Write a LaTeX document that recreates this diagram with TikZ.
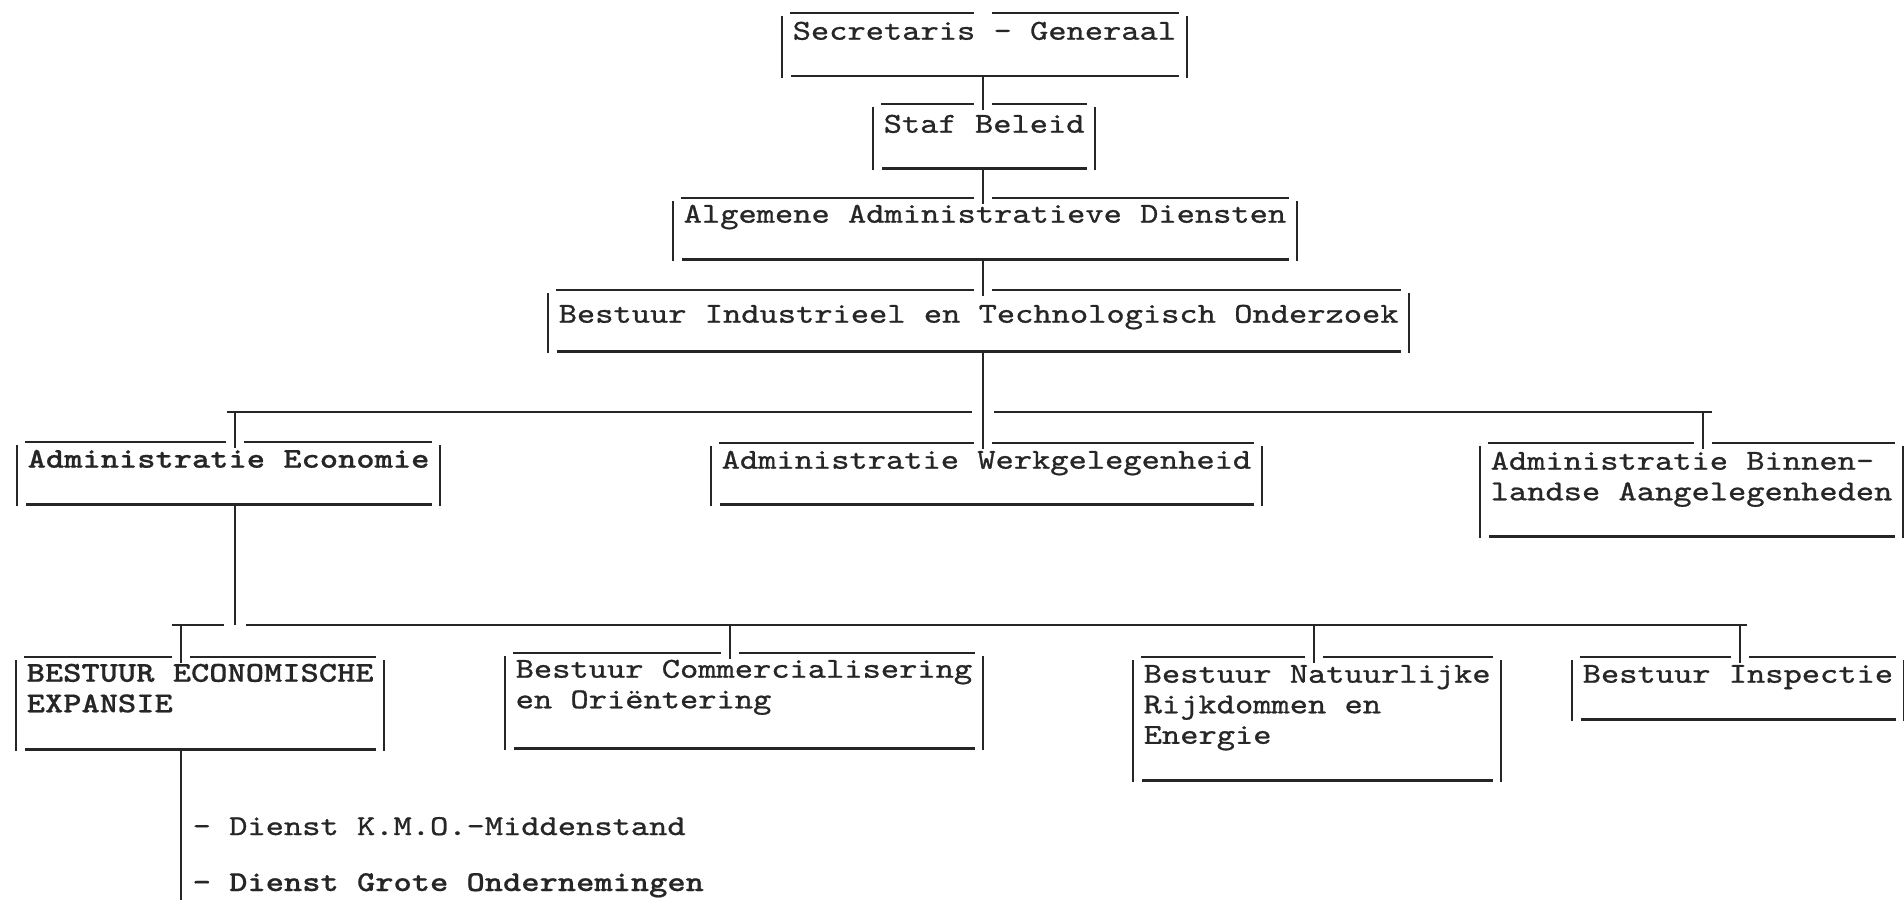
\documentclass[tikz,border=0pt]{standalone}
\usepackage{fontspec}
\usetikzlibrary{calc}
\newfontfamily\schrijfmachine{lmmono10-regular.otf}[FakeStretch=1.206,BoldFont=lmmonolt10-bold.otf,UprightFeatures={FakeBold=0.9},BoldFeatures={FakeBold=0.6}]
\newcommand{\letter}{\schrijfmachine\fontsize{8.2}{8.68}\selectfont}
\newcommand{\regels}[1]{\begin{tabular}[t]{@{}l@{}}#1\end{tabular}}
% kader: zijkanten, onderlijn en bovenlijn met opening voor de verbinding
\newcommand{\kader}[2]{%
	\draw [lijn] ($(#1.north west)+(0,3)$) -- ($(#1.south west)+(0,2)$);
	\draw [lijn] ($(#1.north east)+(0,3)$) -- ($(#1.south east)+(0,2)$);
	\draw [lijn] ($(#1.north west)+(8,0)$) -- ($(#1.north -| #2)+(-9,0)$);
	\draw [lijn] ($(#1.north -| #2)+(9,0)$) -- ($(#1.north east)+(-8,0)$);
	\draw [lijn] ($(#1.south west)+(9,0)$) -- ($(#1.south east)+(-8,0)$);
}
\tikzset{
	lijn/.style={line width=0.6pt, black!85},
	vak/.style 2 args={inner xsep=0.1cm, inner ysep=0pt, anchor=north west, text height=#1, text depth=#2, font=\letter, text=black!85},
	vet/.style={font=\letter\bfseries},
	regel/.style={inner sep=0pt, anchor=base west, font=\letter, text=black!85}
}
\begin{document}
\begin{tikzpicture}[x=0.01cm, y=-0.01cm]
	\useasboundingbox (0,0) rectangle (1904,900);
	% hoofdas en aansluitpunten op de verdeellijnen
	\coordinate (as) at (983,0);
	\coordinate (h1l) at (227,412);
	\coordinate (h1r) at (1712,412);
	\coordinate (k-ae) at (235,412);
	\coordinate (k-bin) at (1703,412);
	\coordinate (h2l) at (172,625);
	\coordinate (h2r) at (1747,625);
	\coordinate (k-bee) at (181,625);
	\coordinate (k-com) at (730,625);
	\coordinate (k-nat) at (1314,625);
	\coordinate (k-ins) at (1740,625);
	\coordinate (einde) at (181,900);
	% top
	\node [vak={0.26cm}{0.36cm}] (sg) at (782,13) {\regels{Secretaris - Generaal}};
	\node [vak={0.28cm}{0.35cm}] (sb) at (873,104) {\regels{Staf Beleid}};
	\node [vak={0.24cm}{0.36cm}] (alg) at (673,198) {\regels{Algemene Administratieve Diensten}};
	\node [vak={0.32cm}{0.28cm}] (bi) at (548,290) {\regels{Bestuur Industrieel en Technologisch Onderzoek}};
	% administraties
	\node [vak={0.25cm}{0.36cm}, vet] (ae) at (17,442) {\regels{Administratie Economie}};
	\node [vak={0.25cm}{0.35cm}] (werk) at (711,443) {\regels{Administratie Werkgelegenheid}};
	\node [vak={0.26cm}{0.66cm}] (bin) at (1480,443) {\regels{Administratie Binnen-\\landse Aangelegenheden}};
	% besturen
	\node [vak={0.24cm}{0.67cm}, vet] (bee) at (16,657) {\regels{BESTUUR ECONOMISCHE\\EXPANSIE}};
	\node [vak={0.24cm}{0.70cm}] (com) at (505,653) {\regels{Bestuur Commercialisering\\en Oriëntering}};
	\node [vak={0.25cm}{0.97cm}] (nat) at (1133,657) {\regels{Bestuur Natuurlijke\\Rijkdommen en\\Energie}};
	\node [vak={0.25cm}{0.36cm}] (ins) at (1572,657) {\regels{Bestuur Inspectie}};
	% diensten
	\node [regel] (kmo) at (192,835) {- Dienst K.M.O.-Middenstand};
	\node [regel, vet] (gro) at (192,891) {- Dienst Grote Ondernemingen};
	% kaders
	\foreach \n/\k in {sg/as, sb/as, alg/as, bi/as, ae/k-ae, werk/as, bin/k-bin, bee/k-bee, com/k-com, nat/k-nat, ins/k-ins}
		\kader{\n}{\k};
	% verbindingen langs de hoofdas
	\draw [lijn] (sg.south -| as) -- ($(sb.north -| as)+(0,6)$);
	\draw [lijn] (sb.south -| as) -- ($(alg.north -| as)+(0,6)$);
	\draw [lijn] (alg.south -| as) -- ($(bi.north -| as)+(0,6)$);
	\draw [lijn] (bi.south -| as) -- ($(werk.north -| as)+(0,6)$);
	% eerste verdeellijn
	\draw [lijn] (h1l) -- ($(h1l -| as)+(-11,0)$);
	\draw [lijn] ($(h1l -| as)+(11,0)$) -- (h1r);
	\draw [lijn] (k-ae) -- ($(ae.north -| k-ae)+(0,6)$);
	\draw [lijn] (k-bin) -- ($(bin.north -| k-bin)+(0,6)$);
	% tweede verdeellijn
	\draw [lijn] (ae.south -| k-ae) -- (k-ae |- h2l);
	\draw [lijn] (h2l) -- ($(h2l -| k-ae)+(-11,0)$);
	\draw [lijn] ($(h2l -| k-ae)+(11,0)$) -- (h2r);
	\foreach \k/\n in {k-bee/bee, k-com/com, k-nat/nat, k-ins/ins}
		\draw [lijn] (\k) -- ($(\n.north -| \k)+(0,6)$);
	\draw [lijn] (bee.south -| einde) -- (einde);
\end{tikzpicture}
\end{document}
